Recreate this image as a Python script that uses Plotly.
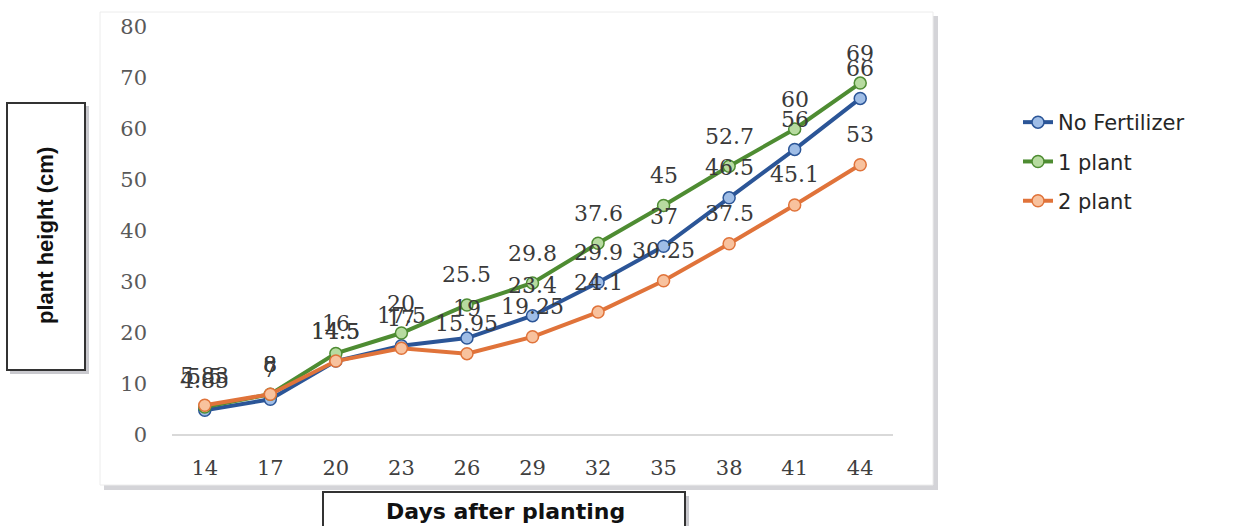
import plotly.graph_objects as go

# ---- data ----
days = [14, 17, 20, 23, 26, 29, 32, 35, 38, 41, 44]
no_fertilizer = [4.85, 7, 14.5, 17.5, 19, 23.4, 29.9, 37, 46.5, 56, 66]
one_plant = [5.5, 8, 16, 20, 25.5, 29.8, 37.6, 45, 52.7, 60, 69]
two_plant = [5.83, 8, 14.5, 17, 15.95, 19.25, 24.1, 30.25, 37.5, 45.1, 53]
series_names = ["No Fertilizer", "1 plant", "2 plant"]
y_ticks = [0, 10, 20, 30, 40, 50, 60, 70, 80]

# ---- layout geometry (pixels) ----
W, H = 1233, 526
L, R, T, B = 172, 340, 27, 91
PW, PH = W - L - R, H - T - B


def px(xp):
    return (xp - L) / PW


def py(yp):
    return (H - B - yp) / PH


line_colors = ["#2b5597", "#4e8c32", "#e0733a"]
fill_colors = ["#9fbde6", "#b7dba0", "#f8c29e"]
series = [no_fertilizer, one_plant, two_plant]

fig = go.Figure()
for i, (name, vals) in enumerate(zip(series_names, series)):
    fig.add_trace(go.Scatter(
        x=days, y=vals, name=name, mode="lines+markers",
        legendgroup=f"g{i}",
        line=dict(color=line_colors[i], width=4),
        marker=dict(size=12, color=fill_colors[i],
                    line=dict(color=line_colors[i], width=1.5)),
    ))

annotations = []
for vals in series:
    for d, v in zip(days, vals):
        annotations.append(dict(
            x=d, y=v, xref="x", yref="y", text=f"{v:g}", showarrow=False,
            yshift=30, font=dict(family="DejaVu Serif", size=22, color="#3a3a3a"),
        ))

# axis titles
annotations.append(dict(
    x=px(46), y=py(236), xref="paper", yref="paper", text="<b>plant height (cm)</b>",
    textangle=-90, showarrow=False, xanchor="center", yanchor="middle",
    font=dict(family="Liberation Sans", size=22, color="#111111"),
))
annotations.append(dict(
    x=px(505), y=py(511), xref="paper", yref="paper", text="<b>Days after planting</b>",
    showarrow=False, xanchor="center", yanchor="middle",
    font=dict(family="DejaVu Sans", size=22, color="#111111"),
))

shapes = [
    # chart frame shadow + frame
    dict(type="rect", xref="paper", yref="paper", layer="below",
         x0=px(104), x1=px(938), y0=py(490), y1=py(16),
         fillcolor="#d4d4d8", line=dict(width=0)),
    dict(type="rect", xref="paper", yref="paper", layer="below",
         x0=px(100), x1=px(933), y0=py(485), y1=py(12),
         fillcolor="white", line=dict(color="#ececec", width=1)),
    # y title box
    dict(type="rect", xref="paper", yref="paper", layer="below",
         x0=px(10), x1=px(89), y0=py(374), y1=py(106),
         fillcolor="#c9c9ce", line=dict(width=0)),
    dict(type="rect", xref="paper", yref="paper", layer="below",
         x0=px(7), x1=px(85), y0=py(370), y1=py(103),
         fillcolor="white", line=dict(color="#333333", width=2)),
    # x title box
    dict(type="rect", xref="paper", yref="paper", layer="below",
         x0=px(327), x1=px(689), y0=py(540), y1=py(496),
         fillcolor="#c9c9ce", line=dict(width=0)),
    dict(type="rect", xref="paper", yref="paper", layer="below",
         x0=px(323), x1=px(685), y0=py(540), y1=py(492),
         fillcolor="white", line=dict(color="#333333", width=2)),
]

fig.update_layout(
    width=W, height=H,
    margin=dict(l=L, r=R, t=T, b=B, pad=0),
    paper_bgcolor="white", plot_bgcolor="rgba(0,0,0,0)",
    showlegend=True,
    legend=dict(
        x=px(1018), y=py(102), xanchor="left", yanchor="top",
        font=dict(family="DejaVu Sans", size=21, color="#262626"),
        bgcolor="rgba(0,0,0,0)", tracegroupgap=9,
    ),
    xaxis=dict(
        range=[12.5, 45.5], tickmode="array", tickvals=days,
        ticktext=[str(d) for d in days],
        showgrid=False, zeroline=False, showline=False, ticks="",
        ticklabelstandoff=18,
        tickfont=dict(family="DejaVu Serif", size=21, color="#404040"),
    ),
    yaxis=dict(
        range=[0, 80], tickmode="array", tickvals=y_ticks,
        showgrid=False, zeroline=True, zerolinecolor="#d9d9d9", zerolinewidth=2,
        showline=False, ticks="", ticklabelstandoff=24,
        tickfont=dict(family="DejaVu Serif", size=21, color="#595959"),
    ),
    annotations=annotations,
    shapes=shapes,
)

fig.write_html("out.html")
